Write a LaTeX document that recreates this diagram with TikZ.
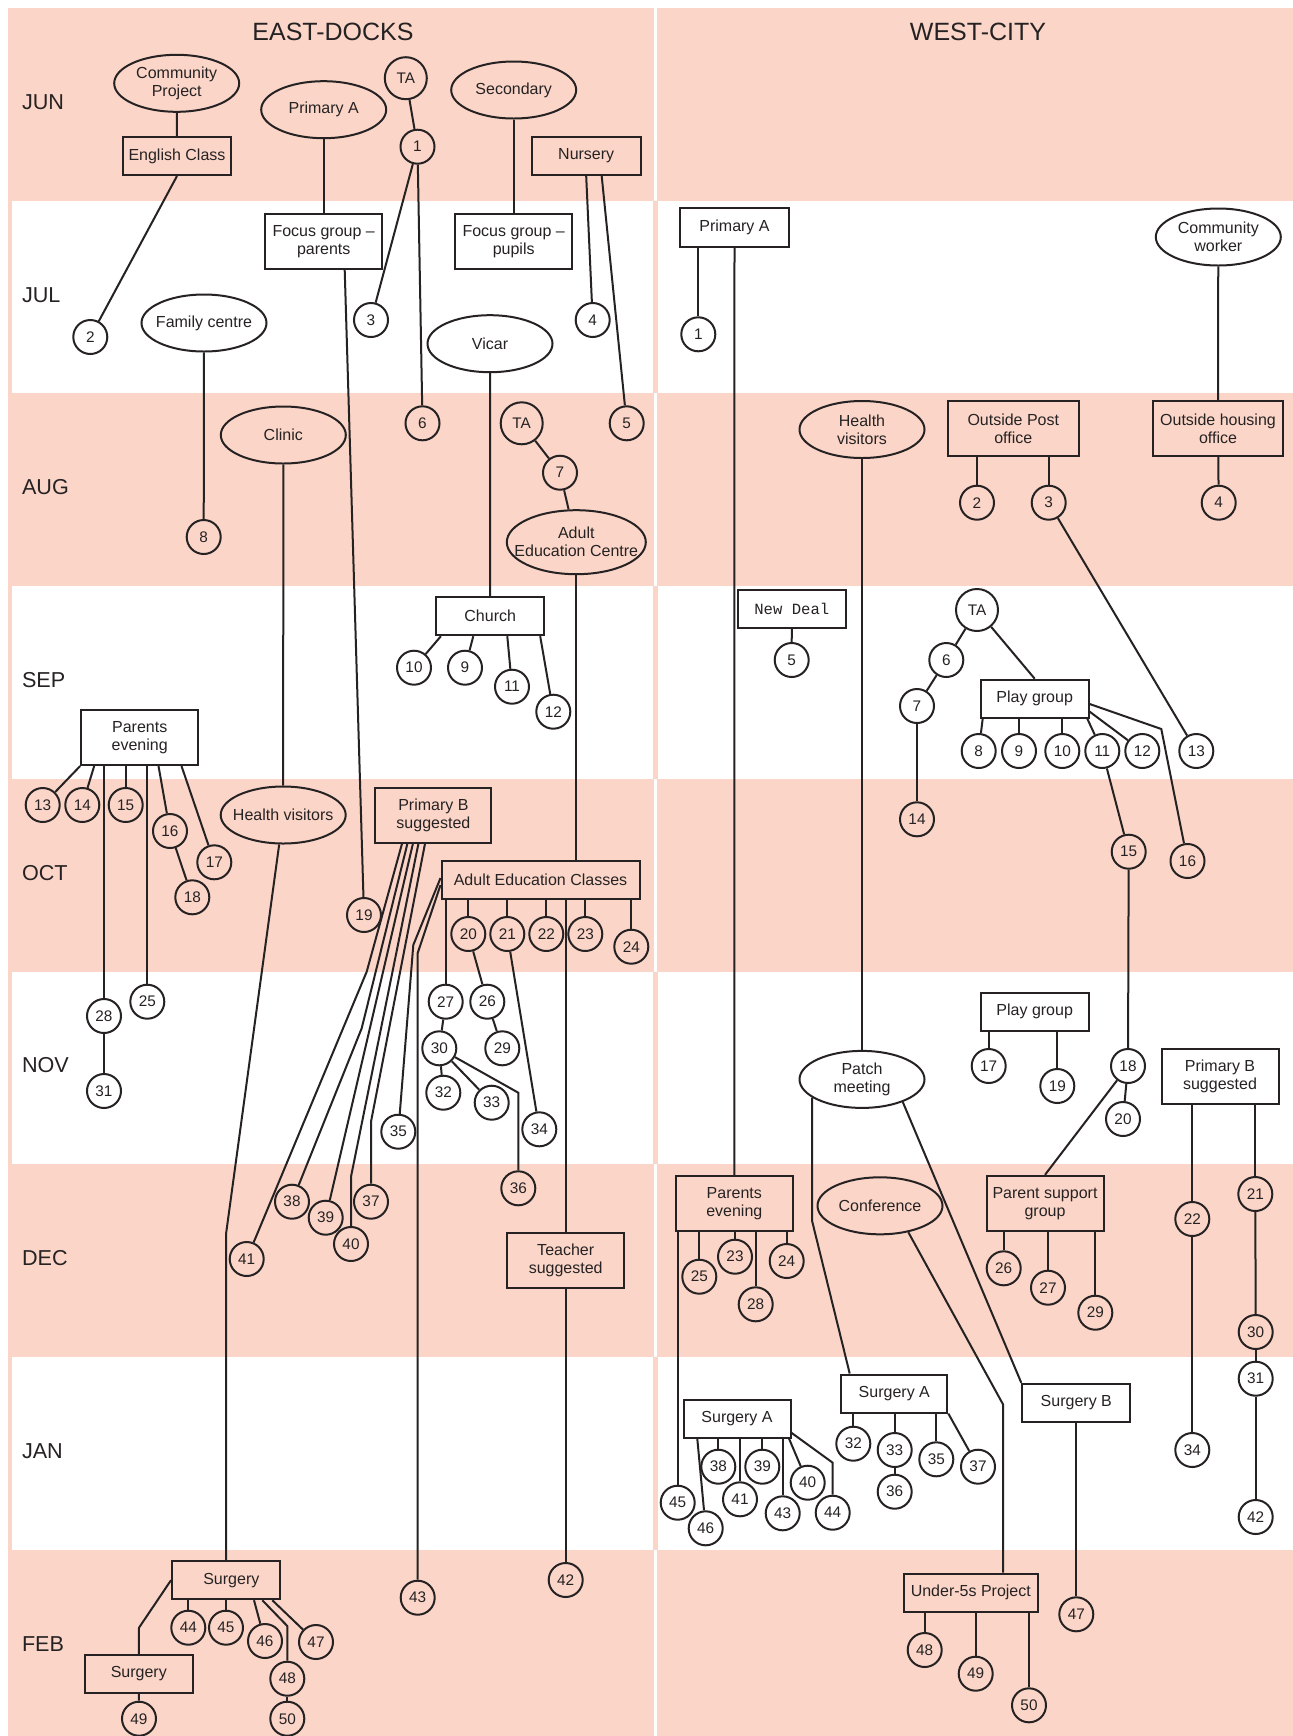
\documentclass[tikz,border=0pt]{standalone}
\usepackage{fontspec}
\setmainfont{Liberation Sans}
\newfontfamily\monofont{Liberation Mono}
\usetikzlibrary{calc,shapes.geometric}
\definecolor{ink}{RGB}{38,34,35}
\definecolor{lazac}{RGB}{251,214,200}
\tikzset{
  kor/.style={circle,draw,inner sep=0pt,minimum size=25.5pt,font=\fontsize{11.5}{13}\selectfont},
  nagykor/.style={kor,minimum size=31.5pt},
  doboz/.style={draw,rectangle,inner sep=2pt,minimum width=81pt,minimum height=28.5pt,align=center,font=\fontsize{12}{13.5}\selectfont},
  ketsor/.style={doboz,minimum width=87.75pt,minimum height=41.25pt},
  ovalis/.style={draw,ellipse,inner xsep=-13pt,inner ysep=0pt,minimum width=93.75pt,minimum height=42.75pt,align=center,font=\fontsize{12}{13.5}\selectfont},
  honap/.style={anchor=west,inner sep=0pt,font=\fontsize{16.2}{19}\selectfont},
  fej/.style={font=\fontsize{18.75}{22}\selectfont},
}
\begin{document}
\begin{tikzpicture}[x=0.75pt,y=-0.75pt,color=ink,line width=1.5pt]
  \useasboundingbox (0,0) rectangle (1293,1736);
  \fill[lazac] (8,8) rectangle (1293,1736);
  \foreach \r in {1,3,5,7}
    \fill[white] (12,8+192.7*\r) rectangle (1293,200.7+192.7*\r);
  \fill[lazac] (653,8) rectangle (658,1736);
  \foreach \r in {0,2,4,6}
    \fill[white] (654.2,8+192.7*\r) rectangle (656.8,200.7+192.7*\r);
  \fill[white] (654.2,1549.6) rectangle (656.8,1736);

  \node[fej] (kelet) at (333,32) {EAST-DOCKS};
  \node[fej] (nyugat) at (978,32) {WEST-CITY};
  \node[honap] (hJUN) at (21,102) {JUN};
  \node[honap] (hJUL) at (21,294.7) {JUL};
  \node[honap] (hAUG) at (21,487.4) {AUG};
  \node[honap] (hSEP) at (21,680.1) {SEP};
  \node[honap] (hOCT) at (21,872.8) {OCT};
  \node[honap] (hNOV) at (21,1065.5) {NOV};
  \node[honap] (hDEC) at (21,1258.2) {DEC};
  \node[honap] (hJAN) at (21,1450.9) {JAN};
  \node[honap] (hFEB) at (21,1643.6) {FEB};

  \node[ovalis] (eCP) at (176.7,83.3) {Community\\Project};
  \node[doboz] (eEC) at (177,156) {English Class};
  \node[ovalis] (ePA) at (323.7,109.7) {Primary A};
  \node[ketsor] (eFGpar) at (323.7,241.3) {Focus group --\\parents};
  \node[nagykor] (eTA) at (405.8,78.2) {TA};
  \node[ovalis] (eSec) at (513.7,90) {Secondary};
  \node[ketsor] (eFGpup) at (513.7,241.3) {Focus group --\\pupils};
  \node[doboz,minimum width=81.75pt] (eNur) at (586.2,156) {Nursery};
  \node[ovalis] (eFC) at (204,323) {Family centre};
  \node[ovalis] (eVic) at (490,343.7) {Vicar};
  \node[ovalis] (eCli) at (283.3,435) {Clinic};
  \node[nagykor] (eTA2) at (521.7,423.3) {TA};
  \node[ovalis,minimum width=104.25pt,minimum height=48pt] (eAEC) at (576.3,542.2) {Adult\\Education Centre};
  \node[doboz] (eCh) at (490.2,616.2) {Church};
  \node[ketsor] (ePE) at (139.7,737.5) {Parents\\evening};
  \node[ovalis] (eHV) at (283.2,815) {Health visitors};
  \node[ketsor,minimum width=87pt] (ePB) at (433.4,815.2) {Primary B\\suggested};
  \node[doboz,minimum width=148.5pt] (eAECl) at (540.5,880) {Adult Education Classes};
  \node[ketsor] (eTS) at (565.7,1260.5) {Teacher\\suggested};
  \node[doboz] (eSu) at (226,1580.2) {\hspace{8pt}Surgery};
  \node[doboz] (eSu2) at (138.8,1673.8) {Surgery};

  \node[kor] (e1) at (417.5,146.7) {1};
  \node[kor] (e2) at (90.3,337) {2};
  \node[kor] (e3) at (371,320) {3};
  \node[kor] (e4) at (592.7,320) {4};
  \node[kor] (e5) at (626.7,423.3) {5};
  \node[kor] (e6) at (422.5,423.3) {6};
  \node[kor] (e7) at (560,472.7) {7};
  \node[kor] (e8) at (203.7,537) {8};
  \node[kor] (e9) at (465,667.7) {9};
  \node[kor] (e10) at (414,667.7) {10};
  \node[kor] (e11) at (512,686.7) {11};
  \node[kor] (e12) at (553.3,711.7) {12};
  \node[kor] (e13) at (42.7,805) {13};
  \node[kor] (e14) at (82.3,805) {14};
  \node[kor] (e15) at (125.7,805) {15};
  \node[kor] (e16) at (170,831) {16};
  \node[kor] (e17) at (214.3,862.3) {17};
  \node[kor] (e18) at (192.3,897.3) {18};
  \node[kor] (e19) at (364,915) {19};
  \node[kor] (e20) at (468.3,934) {20};
  \node[kor] (e21) at (507.3,934) {21};
  \node[kor] (e22) at (546.3,934) {22};
  \node[kor] (e23) at (585.3,934) {23};
  \node[kor] (e24) at (631.3,946.7) {24};
  \node[kor] (e25) at (147.3,1001.7) {25};
  \node[kor] (e26) at (487.3,1001.7) {26};
  \node[kor] (e27) at (445.7,1001.7) {27};
  \node[kor] (e28) at (104,1016) {28};
  \node[kor] (e29) at (502.3,1048.3) {29};
  \node[kor] (e30) at (439.3,1048.3) {30};
  \node[kor] (e31) at (104,1091) {31};
  \node[kor] (e32) at (443.3,1092.7) {32};
  \node[kor] (e33) at (491.7,1102.7) {33};
  \node[kor] (e34) at (539.3,1129.3) {34};
  \node[kor] (e35) at (398.3,1131.7) {35};
  \node[kor] (e36) at (518.3,1188.3) {36};
  \node[kor] (e37) at (371,1201.7) {37};
  \node[kor] (e38) at (292,1201.7) {38};
  \node[kor] (e39) at (325.7,1217.7) {39};
  \node[kor] (e40) at (351,1244) {40};
  \node[kor] (e41) at (246.7,1259) {41};
  \node[kor] (e42) at (565.7,1580) {42};
  \node[kor] (e43) at (417.7,1597.7) {43};
  \node[kor] (e44) at (188.3,1627.7) {44};
  \node[kor] (e45) at (226,1627.7) {45};
  \node[kor] (e46) at (265,1641) {46};
  \node[kor] (e47) at (316,1642) {47};
  \node[kor] (e48) at (287.3,1678.7) {48};
  \node[kor] (e49) at (139,1718.7) {49};
  \node[kor] (e50) at (287.3,1718.7) {50};

  \draw (eCP) -- (eEC);
  \draw (eEC.south) -- (e2);
  \draw (ePA) -- (eFGpar);
  \draw (eTA) -- (e1);
  \draw (e1) -- (e3);
  \draw (e1) -- (e6);
  \draw (eFC) -- (e8);
  \draw ($(eFGpar.south)+(21,0)$) -- (e19);
  \draw (eSec) -- (eFGpup);
  \draw (eNur.south) -- (e4);
  \draw ($(eNur.south)+(15.5,0)$) -- (e5);
  \draw (eVic) -- (eCh);
  \draw (eCli) -- (eHV);
  \draw (eTA2) -- (e7);
  \draw (e7) -- (eAEC);
  \draw (eAEC.south) -- (eAEC.south |- eAECl.north);
  \draw ($(eCh.south west)+(5.7,0)$) -- (e10);
  \draw ($(eCh.south)+(-16.9,0)$) -- (e9);
  \draw ($(eCh.south)+(17.1,0)$) -- (e11);
  \draw ($(eCh.south east)+(-5,0)$) -- (e12);
  \draw (ePE.south west) -- (e13);
  \draw ($(ePE.south west)+(14,0)$) -- (e14);
  \draw (e15.north |- ePE.south) -- (e15);
  \draw (e28.north |- ePE.south) -- (e28);
  \draw (e25.north |- ePE.south) -- (e25);
  \draw ($(ePE.south west)+(78.3,0)$) -- (e16);
  \draw ($(ePE.south west)+(101.3,0)$) -- (e17);
  \draw (e16) -- (e18);
  \draw (e28) -- (e31);
  \draw (eHV) -- ($(eSu.north)+(0,-326)$) -- (eSu.north);
  \draw ($(ePB.south)+(-31.4,0)$) -- (366.7,971.7) -- (e41);
  \draw ($(ePB.south)+(-26,0)$) -- (361.7,1028.3) -- (e38);
  \draw ($(ePB.south)+(-20.5,0)$) -- (e39);
  \draw ($(ePB.south)+(-15,0)$) -- (351,1176.7) -- (e40);
  \draw ($(ePB.south)+(-8.4,0)$) -- (371,1121.7) -- (e37);
  \draw ($(eAECl.west)+(0,-2)$) -- (413.3,945) -- (e35);
  \draw ($(eAECl.west)+(0,5)$) -- (417.7,953) -- (e43);
  \draw (e20.north |- eAECl.south) -- (e20);
  \draw (e21.north |- eAECl.south) -- (e21);
  \draw (e22.north |- eAECl.south) -- (e22);
  \draw (e23.north |- eAECl.south) -- (e23);
  \draw (e24.north |- eAECl.south) -- (e24);
  \draw (e27.north |- eAECl.south) -- (e27);
  \draw (e20) -- (e26);
  \draw (e21) -- (e34);
  \draw (e27) -- (e30);
  \draw (e26) -- (e29);
  \draw (e30) -- (e32);
  \draw (e30) -- (e33);
  \draw (e30) -- (518.3,1092.7) -- (e36);
  \draw ($(eAECl.south)+(25.2,0)$) -- (eTS);
  \draw (eTS) -- (e42);
  \draw (e44.north |- eSu.south) -- (e44);
  \draw (e45.north |- eSu.south) -- (e45);
  \draw ($(eSu.south west)+(83,0)$) -- (e46);
  \draw ($(eSu.south west)+(91.3,0)$) -- (287.3,1626) -- (e48);
  \draw ($(eSu.south west)+(101.3,0)$) -- (e47);
  \draw (e48) -- (e50);
  \draw (eSu.west) -- (139,1627.7) -- (eSu2);
  \draw (eSu2) -- (e49);

  \node[doboz,minimum width=81.75pt,minimum height=29.25pt] (wPA) at (734.5,227.2) {Primary A};
  \node[ovalis] (wCW) at (1218.3,237) {Community\\worker};
  \node[ovalis] (wHV) at (862,429.5) {Health\\visitors};
  \node[ketsor,minimum width=98.25pt] (wOPO) at (1013.3,428.3) {Outside Post\\office};
  \node[ketsor,minimum width=97.5pt] (wOHO) at (1218,428.3) {Outside housing\\office};
  \node[doboz,font=\monofont\fontsize{11.7}{13}\selectfont] (wND) at (791.8,609.2) {New Deal};
  \node[nagykor] (wTA) at (977,610) {TA};
  \node[doboz] (wPG) at (1034.7,698.7) {Play group};
  \node[doboz] (wPG2) at (1034.7,1011.7) {Play group};
  \node[ovalis] (wPM) at (862,1079.4) {Patch\\meeting};
  \node[ketsor] (wPB) at (1220,1076.8) {Primary B\\suggested};
  \node[ketsor] (wPE) at (734.3,1203.7) {Parents\\evening};
  \node[ovalis] (wCo) at (880,1205.8) {Conference};
  \node[ketsor] (wPSG) at (1045,1203.3) {Parent support\\group};
  \node[doboz,minimum width=80.25pt] (wSA) at (737,1418.8) {Surgery A};
  \node[doboz,minimum width=79.5pt] (wSA2) at (894.3,1393.5) {Surgery A};
  \node[doboz] (wSB) at (1076.3,1402.8) {Surgery B};
  \node[doboz,minimum width=100.5pt] (wU5) at (970.8,1592.7) {Under-5s Project};

  \node[kor] (w1) at (698.3,334.3) {1};
  \node[kor] (w2) at (977,502.7) {2};
  \node[kor] (w3) at (1048.7,502.7) {3};
  \node[kor] (w4) at (1218.7,502.7) {4};
  \node[kor] (w5) at (791.7,660) {5};
  \node[kor] (w6) at (946.3,660) {6};
  \node[kor] (w7) at (917,706) {7};
  \node[kor] (w8) at (978.7,751) {8};
  \node[kor] (w9) at (1019,751) {9};
  \node[kor] (w10) at (1062.3,751) {10};
  \node[kor] (w11) at (1102.3,751) {11};
  \node[kor] (w12) at (1142.3,751) {12};
  \node[kor] (w13) at (1196.3,751) {13};
  \node[kor] (w14) at (917,819.3) {14};
  \node[kor] (w15) at (1128.7,851.7) {15};
  \node[kor] (w16) at (1187.5,861) {16};
  \node[kor] (w17) at (988.7,1066) {17};
  \node[kor] (w18) at (1128,1066) {18};
  \node[kor] (w19) at (1057.3,1086) {19};
  \node[kor] (w20) at (1123,1119) {20};
  \node[kor] (w21) at (1255.3,1194) {21};
  \node[kor] (w22) at (1192.3,1219) {22};
  \node[kor] (w23) at (735,1256.7) {23};
  \node[kor] (w24) at (786.7,1261) {24};
  \node[kor] (w25) at (699.3,1276.7) {25};
  \node[kor] (w26) at (1003.7,1268.3) {26};
  \node[kor] (w27) at (1048,1287.7) {27};
  \node[kor] (w28) at (755.7,1304.3) {28};
  \node[kor] (w29) at (1095.3,1312.7) {29};
  \node[kor] (w30) at (1255.7,1332) {30};
  \node[kor] (w31) at (1255.7,1378.7) {31};
  \node[kor] (w32) at (853.3,1443.7) {32};
  \node[kor] (w33) at (894.7,1450) {33};
  \node[kor] (w34) at (1192.3,1450) {34};
  \node[kor] (w35) at (936.3,1459.3) {35};
  \node[kor] (w36) at (894.7,1491.7) {36};
  \node[kor] (w37) at (978,1466.7) {37};
  \node[kor] (w38) at (718.3,1466.7) {38};
  \node[kor] (w39) at (762.3,1466.7) {39};
  \node[kor] (w40) at (807.7,1482.7) {40};
  \node[kor] (w41) at (740,1499.3) {41};
  \node[kor] (w42) at (1255.7,1517) {42};
  \node[kor] (w43) at (782.7,1513.3) {43};
  \node[kor] (w44) at (832.7,1512.7) {44};
  \node[kor] (w45) at (677.7,1502.7) {45};
  \node[kor] (w46) at (705.7,1528.3) {46};
  \node[kor] (w47) at (1076.3,1614.3) {47};
  \node[kor] (w48) at (924.7,1650) {48};
  \node[kor] (w49) at (975.7,1673.7) {49};
  \node[kor] (w50) at (1029,1705.3) {50};

  \draw (w1.north |- wPA.south) -- (w1);
  \draw (wPA) -- (wPE);
  \draw (wCW) -- (wOHO);
  \draw (wHV) -- (wPM);
  \draw (w2.north |- wOPO.south) -- (w2);
  \draw (w3.north |- wOPO.south) -- (w3);
  \draw (w3) -- (w13);
  \draw (wOHO) -- (w4);
  \draw (wND) -- (w5);
  \draw (wTA) -- (w6);
  \draw (w6) -- (w7);
  \draw (w7) -- (w14);
  \draw (wTA) -- (wPG.north);
  \draw ($(wPG.south west)+(3,0)$) -- (w8);
  \draw (w9.north |- wPG.south) -- (w9);
  \draw (w10.north |- wPG.south) -- (w10);
  \draw ($(wPG.south east)+(-2.4,0)$) -- (w11);
  \draw ($(wPG.east)+(0,13)$) -- (w12);
  \draw ($(wPG.east)+(0,5.3)$) -- (1161.3,729) -- (w16);
  \draw (w11) -- (w15);
  \draw (w15) -- (w18);
  \draw (w17.north |- wPG2.south) -- (w17);
  \draw (w19.north |- wPG2.south) -- (w19);
  \draw (w18) -- (w20);
  \draw (w18) -- (wPSG.north);
  \draw (wPM.200) -- ++(0,123) -- ($(wSA2.north west)+(9.4,0)$);
  \draw (wPM.331) -- (wSB.north west);
  \draw (w22.north |- wPB.south) -- (w22);
  \draw (w22) -- (w34);
  \draw (w21.north |- wPB.south) -- (w21);
  \draw (w21) -- (w30);
  \draw (w30) -- (w31);
  \draw (w31) -- (w42);
  \draw (w25.north |- wPE.south) -- (w25);
  \draw (w23.north |- wPE.south) -- (w23);
  \draw (w28.north |- wPE.south) -- (w28);
  \draw (w24.north |- wPE.south) -- (w24);
  \draw (w45.north |- wPE.south) -- (w45);
  \draw (wCo.317) -- (1003,1404.3) -- ($(wU5.north)+(32.2,0)$);
  \draw (w26.north |- wPSG.south) -- (w26);
  \draw (w27.north |- wPSG.south) -- (w27);
  \draw (w29.north |- wPSG.south) -- (w29);
  \draw ($(wSA.south west)+(14.8,0)$) -- (w46);
  \draw (w38.north |- wSA.south) -- (w38);
  \draw (w41.north |- wSA.south) -- (w41);
  \draw (w39.north |- wSA.south) -- (w39);
  \draw (w43.north |- wSA.south) -- (w43);
  \draw ($(wSA.south east)+(-2.4,0)$) -- (w40);
  \draw ($(wSA.east)+(0,14)$) -- (832.7,1462.7) -- (w44);
  \draw (w32.north |- wSA2.south) -- (w32);
  \draw (w33.north |- wSA2.south) -- (w33);
  \draw (w35.north |- wSA2.south) -- (w35);
  \draw (w33) -- (w36);
  \draw (wSA2.south east) -- (w37);
  \draw (wSB) -- (w47);
  \draw (w48.north |- wU5.south) -- (w48);
  \draw (w49.north |- wU5.south) -- (w49);
  \draw (w50.north |- wU5.south) -- (w50);
\end{tikzpicture}
\end{document}
